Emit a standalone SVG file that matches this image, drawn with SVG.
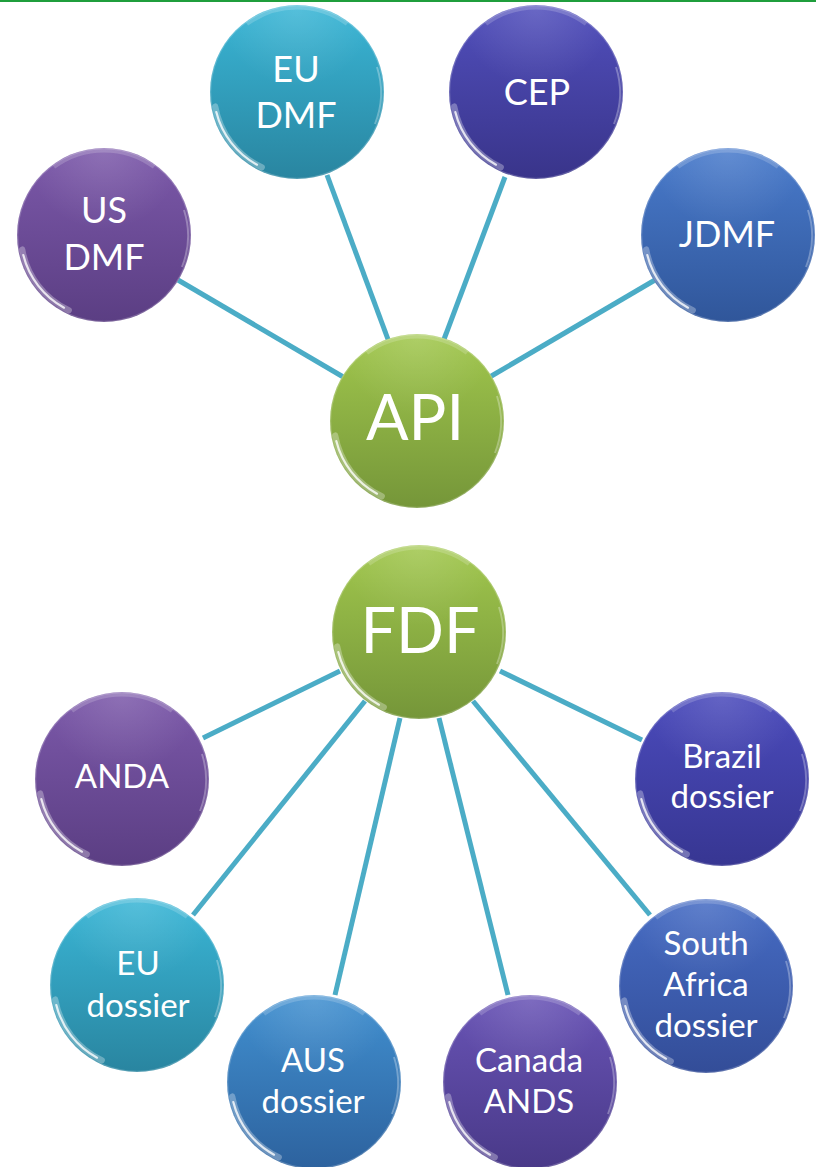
<svg xmlns="http://www.w3.org/2000/svg" xmlns:xlink="http://www.w3.org/1999/xlink" width="816" height="1167" viewBox="0 0 816 1167">
<defs>
<style>
.lbl{font-family:Lato,"Open Sans","Liberation Sans",sans-serif;fill:#ffffff;text-anchor:middle}
.t{font-size:36px}
.b{font-size:33px}
.hub{font-size:63px}
.conn line{stroke:#4bacc6;stroke-width:5;stroke-linecap:butt}
</style>
<linearGradient id="gPurple" x1="0" y1="0" x2="0" y2="1"><stop offset="0" stop-color="#7c59aa"/><stop offset="1" stop-color="#5b3e83"/></linearGradient>
<linearGradient id="gTeal" x1="0" y1="0" x2="0" y2="1"><stop offset="0" stop-color="#3ab6d6"/><stop offset="1" stop-color="#2985a0"/></linearGradient>
<linearGradient id="gIndigo" x1="0" y1="0" x2="0" y2="1"><stop offset="0" stop-color="#514fbc"/><stop offset="1" stop-color="#39348a"/></linearGradient>
<linearGradient id="gBlue" x1="0" y1="0" x2="0" y2="1"><stop offset="0" stop-color="#497bcc"/><stop offset="1" stop-color="#30569a"/></linearGradient>
<linearGradient id="gAus" x1="0" y1="0" x2="0" y2="1"><stop offset="0" stop-color="#4190d0"/><stop offset="1" stop-color="#2d629e"/></linearGradient>
<linearGradient id="gCanada" x1="0" y1="0" x2="0" y2="1"><stop offset="0" stop-color="#6954b6"/><stop offset="1" stop-color="#493988"/></linearGradient>
<linearGradient id="gSA" x1="0" y1="0" x2="0" y2="1"><stop offset="0" stop-color="#466cc4"/><stop offset="1" stop-color="#334d98"/></linearGradient>
<linearGradient id="gBrazil" x1="0" y1="0" x2="0" y2="1"><stop offset="0" stop-color="#4b4bbc"/><stop offset="1" stop-color="#373692"/></linearGradient>
<linearGradient id="gGreen" x1="0" y1="0" x2="0" y2="1"><stop offset="0" stop-color="#a1c74d"/><stop offset="1" stop-color="#759639"/></linearGradient>
<radialGradient id="shine" cx="0.5" cy="0.02" r="0.45">
<stop offset="0" stop-color="#ffffff" stop-opacity="0.14"/>
<stop offset="1" stop-color="#ffffff" stop-opacity="0"/>
</radialGradient>
<g id="gloss">
<circle r="87" fill="url(#shine)"/>
<path d="M -50 -68 A 84 84 0 0 1 50 -68" fill="none" stroke="#ffffff" stroke-opacity="0.18" stroke-width="4"/>
<path d="M -81.7 14.4 A 83 83 0 0 0 -35.1 75.2" fill="none" stroke="#ffffff" stroke-opacity="0.3" stroke-width="6" stroke-linecap="round"/>
<path d="M -80.7 20 A 83 83 0 0 0 -40 72.7" fill="none" stroke="#ffffff" stroke-opacity="0.8" stroke-width="2.2" stroke-linecap="round"/>
<path d="M 80 -25 A 84 84 0 0 1 78 32" fill="none" stroke="#ffffff" stroke-opacity="0.3" stroke-width="2"/>
<circle r="86.5" fill="none" stroke="#ffffff" stroke-opacity="0.2" stroke-width="1.5"/>
</g>
</defs>
<rect x="0" y="0" width="816" height="2" fill="#1f9e3c"/>
<g id="connectors" class="conn">
<line x1="178" y1="280" x2="345" y2="378"/>
<line x1="327" y1="175" x2="389" y2="342"/>
<line x1="505" y1="177" x2="443" y2="342"/>
<line x1="655" y1="280" x2="488" y2="378"/>
<line x1="203" y1="738" x2="340" y2="671"/>
<line x1="193" y1="915" x2="365" y2="701"/>
<line x1="335" y1="995" x2="400" y2="718"/>
<line x1="508" y1="995" x2="439" y2="718"/>
<line x1="650" y1="915" x2="473" y2="701"/>
<line x1="642" y1="740" x2="500" y2="671"/>
</g>
<g id="node-us-dmf">
<circle cx="104" cy="235" r="87" fill="url(#gPurple)"/>
<use xlink:href="#gloss" transform="translate(104,235)"/>
<text class="lbl t" x="104" y="223">US</text>
<text class="lbl t" x="104" y="270">DMF</text>
</g>
<g id="node-eu-dmf">
<circle cx="297" cy="92" r="87" fill="url(#gTeal)"/>
<use xlink:href="#gloss" transform="translate(297,92)"/>
<text class="lbl t" x="296" y="82">EU</text>
<text class="lbl t" x="296" y="128">DMF</text>
</g>
<g id="node-cep">
<circle cx="536" cy="92" r="87" fill="url(#gIndigo)"/>
<use xlink:href="#gloss" transform="translate(536,92)"/>
<text class="lbl t" x="537" y="105">CEP</text>
</g>
<g id="node-jdmf">
<circle cx="728" cy="235" r="87" fill="url(#gBlue)"/>
<use xlink:href="#gloss" transform="translate(728,235)"/>
<text class="lbl t" x="727" y="247">JDMF</text>
</g>
<g id="node-api">
<circle cx="417" cy="421" r="87" fill="url(#gGreen)"/>
<use xlink:href="#gloss" transform="translate(417,421)"/>
<text class="lbl hub" x="415" y="440">API</text>
</g>
<g id="node-fdf">
<circle cx="419" cy="632" r="87" fill="url(#gGreen)"/>
<use xlink:href="#gloss" transform="translate(419,632)"/>
<text class="lbl hub" x="420" y="653">FDF</text>
</g>
<g id="node-anda">
<circle cx="122" cy="779" r="87" fill="url(#gPurple)"/>
<use xlink:href="#gloss" transform="translate(122,779)"/>
<text class="lbl b" x="122" y="788">ANDA</text>
</g>
<g id="node-eu-dossier">
<circle cx="137" cy="985" r="87" fill="url(#gTeal)"/>
<use xlink:href="#gloss" transform="translate(137,985)"/>
<text class="lbl b" x="138" y="975">EU</text>
<text class="lbl b" x="138" y="1017">dossier</text>
</g>
<g id="node-aus-dossier">
<circle cx="314" cy="1082" r="87" fill="url(#gAus)"/>
<use xlink:href="#gloss" transform="translate(314,1082)"/>
<text class="lbl b" x="313" y="1072">AUS</text>
<text class="lbl b" x="313" y="1113">dossier</text>
</g>
<g id="node-canada-ands">
<circle cx="530" cy="1082" r="87" fill="url(#gCanada)"/>
<use xlink:href="#gloss" transform="translate(530,1082)"/>
<text class="lbl b" x="529" y="1072">Canada</text>
<text class="lbl b" x="529" y="1113">ANDS</text>
</g>
<g id="node-south-africa-dossier">
<circle cx="706" cy="986" r="87" fill="url(#gSA)"/>
<use xlink:href="#gloss" transform="translate(706,986)"/>
<text class="lbl b" x="706" y="955">South</text>
<text class="lbl b" x="706" y="996">Africa</text>
<text class="lbl b" x="706" y="1037">dossier</text>
</g>
<g id="node-brazil-dossier">
<circle cx="722" cy="779" r="87" fill="url(#gBrazil)"/>
<use xlink:href="#gloss" transform="translate(722,779)"/>
<text class="lbl b" x="722" y="768">Brazil</text>
<text class="lbl b" x="722" y="808">dossier</text>
</g>
</svg>
